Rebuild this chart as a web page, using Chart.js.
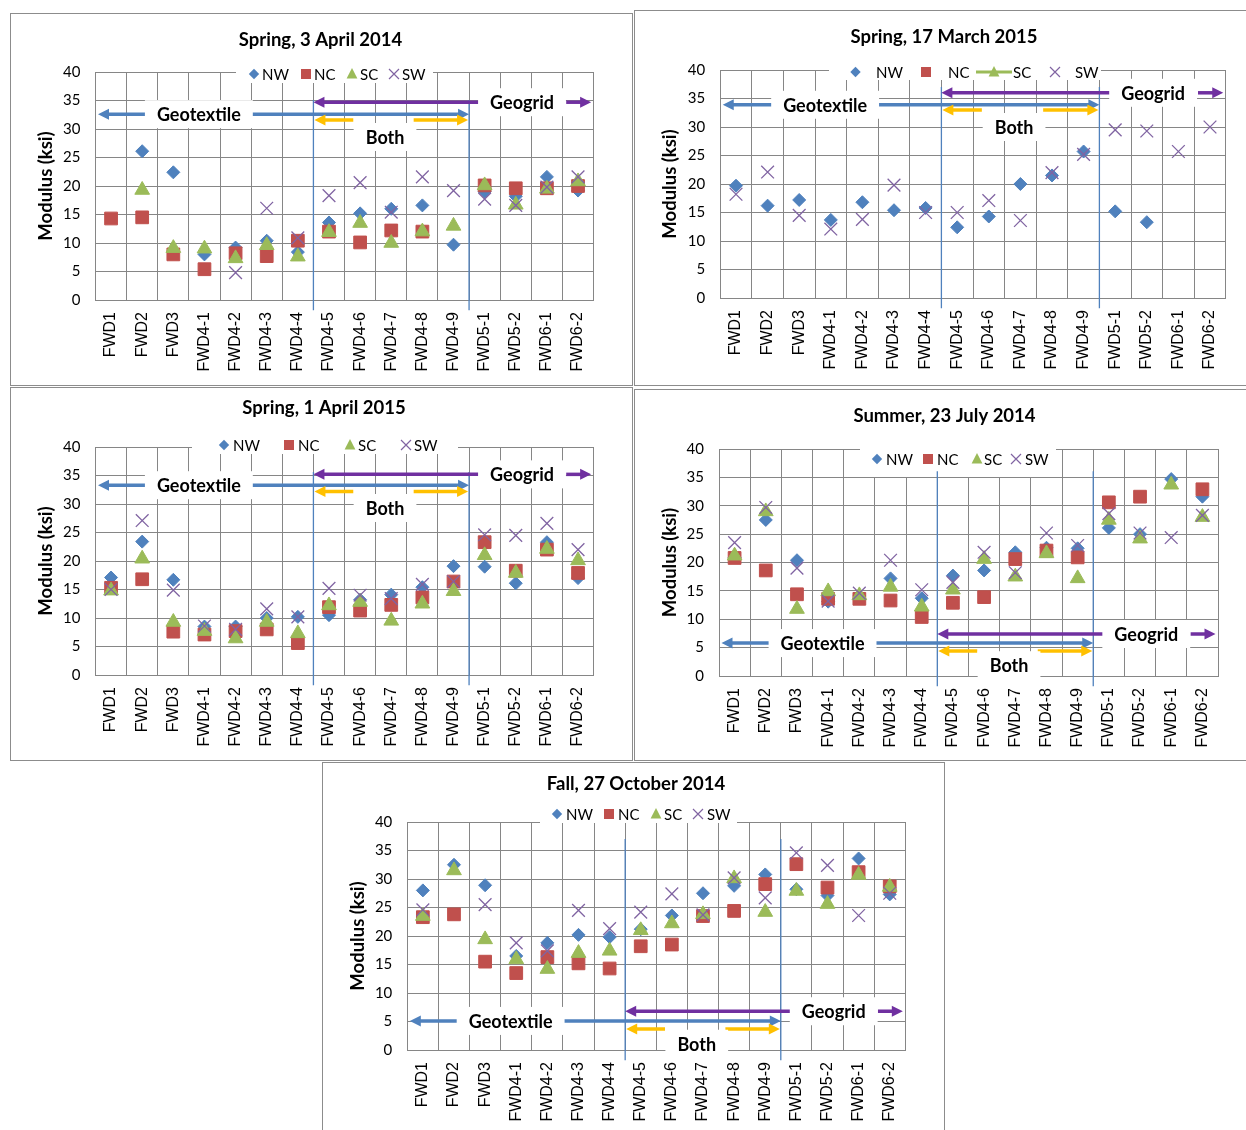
<!DOCTYPE html>
<html>
<head>
<meta charset="utf-8">
<script src="https://cdn.jsdelivr.net/npm/chart.js@4.4.1/dist/chart.umd.min.js"></script>
<style>
body { margin: 0; background: #fff; width: 1246px; height: 1130px; position: relative; overflow: hidden; }
.panel { position: absolute; border: 1px solid #8c8c8c; box-sizing: border-box; background: #fff; }
.panel canvas { position: absolute; left: 0; top: 0; }
</style>
</head>
<body>
<div class="panel" id="p1"><canvas id="c1"></canvas></div>
<div class="panel" id="p2"><canvas id="c2"></canvas></div>
<div class="panel" id="p3"><canvas id="c3"></canvas></div>
<div class="panel" id="p4"><canvas id="c4"></canvas></div>
<div class="panel" id="p5"><canvas id="c5"></canvas></div>
<script>
// FWD test points, modulus in ksi
var categories = ['FWD1','FWD2','FWD3','FWD4-1','FWD4-2','FWD4-3','FWD4-4','FWD4-5','FWD4-6','FWD4-7','FWD4-8','FWD4-9','FWD5-1','FWD5-2','FWD6-1','FWD6-2'];
var seriesNames = ['NW','NC','SC','SW'];
var yMin = 0, yMax = 40, yStep = 5;

// Spring, 3 April 2014
var apr14NW = [null, 26.1, 22.4, 8.0, 9.2, 10.4, 8.4, 13.6, 15.2, 16.0, 16.6, 9.7, 19.0, 18.2, 21.6, 19.2];
var apr14NC = [14.3, 14.5, 8.0, 5.4, 8.2, 7.7, 10.4, 12.0, 10.1, 12.2, 12.0, null, 20.1, 19.6, 19.6, 20.0];
var apr14SC = [null, 19.3, 9.1, 9.0, 7.3, 9.6, 7.6, 11.9, 13.5, 10.0, 12.0, 13.0, 20.1, 16.7, 19.5, 20.8];
var apr14SW = [null, null, null, null, 4.8, 16.1, 10.9, 18.3, 20.6, 15.4, 21.6, 19.2, 17.7, 16.6, 19.8, 21.6];

// Spring, 17 March 2015
var mar15NW = [19.7, 16.2, 17.2, 13.7, 16.8, 15.4, 15.8, 12.4, 14.3, 20.0, 21.5, 25.7, 15.2, 13.3, null, null];
var mar15NC = [null, null, null, null, null, null, null, null, null, null, null, null, null, null, null, null];
var mar15SC = [null, null, null, null, null, null, null, null, null, null, null, null, null, null, null, null];
var mar15SW = [18.2, 22.1, 14.5, 12.1, 13.8, 19.8, 15.0, 15.0, 17.1, 13.6, 22.0, 25.2, 29.5, 29.3, 25.7, 30.0];

// Spring, 1 April 2015
var apr15NW = [17.1, 23.4, 16.7, 8.5, 8.5, 10.0, 10.2, 10.5, 13.2, 14.1, 15.4, 19.1, 19.0, 16.1, 23.3, 17.0];
var apr15NC = [15.3, 16.8, 7.6, 7.1, 7.7, 8.0, 5.6, 11.9, 11.3, 12.3, 13.6, 16.4, 23.3, 18.3, 22.0, 17.9];
var apr15SC = [14.8, 20.4, 9.3, 7.7, 6.4, 9.3, 7.3, 12.2, 12.8, 9.5, 12.5, 14.7, 21.0, 17.9, 22.1, 20.1];
var apr15SW = [15.0, 27.1, 14.9, 8.6, 8.0, 11.6, 10.2, 15.2, 14.0, 13.4, 15.9, 16.4, 24.6, 24.5, 26.6, 22.0];

// Summer, 23 July 2014
var jul14NW = [20.9, 27.5, 20.4, 13.1, 14.1, 17.2, 13.7, 17.7, 18.6, 21.8, 22.6, 22.5, 26.1, 25.0, 34.7, 31.6];
var jul14NC = [20.8, 18.6, 14.4, 13.6, 13.6, 13.3, 10.4, 12.9, 13.9, 20.6, 22.1, 20.9, 30.6, 31.6, null, 32.9];
var jul14SC = [21.2, 29.0, 11.8, 14.9, 14.2, 15.7, 12.2, 15.2, 20.6, 17.5, 21.6, 17.2, 27.5, 24.2, 33.7, 28.0];
var jul14SW = [23.5, 29.7, 19.0, 13.2, 14.6, 20.4, 15.2, 16.5, 21.8, 18.2, 25.2, 23.0, 28.6, 25.2, 24.4, 28.3];

// Fall, 27 October 2014
var oct14NW = [28.0, 32.5, 28.9, 16.5, 18.8, 20.2, 19.8, 21.2, 23.6, 27.5, 28.8, 30.8, 28.2, 27.1, 33.6, 27.3];
var oct14NC = [23.3, 23.8, 15.5, 13.5, 16.3, 15.2, 14.3, 18.2, 18.5, 23.5, 24.4, 29.1, 32.6, 28.5, 31.2, 28.7];
var oct14SC = [23.5, 31.5, 19.4, 15.9, 14.2, 17.0, 17.4, 21.0, 22.2, 23.8, 30.1, 24.2, 27.9, 25.6, 30.7, 28.6];
var oct14SW = [24.6, null, 25.5, 18.8, 17.4, 24.5, 21.3, 24.2, 27.4, 23.7, 30.2, 26.7, 34.6, 32.4, 23.6, 27.5];

var colors = { NW: '#4F81BD', NC: '#C0504D', SC: '#9BBB59', SW: '#8064A2' };
var styles = { NW: 'rectRot', NC: 'rect', SC: 'triangle', SW: 'crossRot' };
var radii = { NW: 6.5, NC: 9, SC: 8.5, SW: 9 };

// page layout (pixel positions in the page)
// notes = ksi levels of [geotextile arrow, geogrid arrow, both arrows, "Both" text, top of divider lines]
var panels = [
  { canvas: 'c1', div: 'p1', box: [10, 13, 623, 373], title: 'Spring, 3 April 2014', titleXY: [320.5, 40],
    plot: [95.5, 72, 593.6, 300], data: [apr14NW, apr14NC, apr14SC, apr14SW],
    notes: [32.6, 34.7, 31.6, 28.6, 35.1],
    legendY: 74, legendBox: [236, 433, 66, 83], legend: [[254, 262], [306, 314], [352, 360], [394, 402]] },
  { canvas: 'c2', div: 'p2', box: [634, 10, 614, 376], title: 'Spring, 17 March 2015', titleXY: [944, 37],
    plot: [720.2, 70, 1225.8, 298], data: [mar15NW, mar15NC, mar15SC, mar15SW],
    notes: [33.9, 36.0, 33.0, 30.0, 37.0], scLine: true,
    legendY: 72, legendBox: [829, 1101, 63, 80], legend: [[855.5, 876], [926, 948], [994, 1013], [1055, 1075]] },
  { canvas: 'c3', div: 'p3', box: [10, 387, 623, 374], title: 'Spring, 1 April 2015', titleXY: [324, 408],
    plot: [95.5, 447, 593.6, 675], data: [apr15NW, apr15NC, apr15SC, apr15SW],
    notes: [33.3, 35.2, 32.2, 29.3, 35.6],
    legendY: 445, legendBox: [192, 458, 437, 454], legend: [[224, 233], [289, 298], [350, 358], [406, 414]] },
  { canvas: 'c4', div: 'p4', box: [634, 389, 614, 372], title: 'Summer, 23 July 2014', titleXY: [944.5, 416],
    plot: [719, 449, 1218, 676], data: [jul14NW, jul14NC, jul14SC, jul14SW],
    notes: [5.8, 7.4, 4.4, 1.9, 36.1],
    legendY: 459, legendBox: [860, 1056, 449, 477], legend: [[877, 886], [928, 937], [977, 984], [1016, 1025]] },
  { canvas: 'c5', div: 'p5', box: [322, 762, 623, 369], title: 'Fall, 27 October 2014', titleXY: [636, 784],
    plot: [407.3, 822, 905.3, 1050], data: [oct14NW, oct14NC, oct14SC, oct14SW],
    notes: [5.1, 6.8, 3.7, 1.1, 37.0],
    legendY: 814, legendBox: [540, 737, 806, 823], legend: [[557, 566], [609, 618], [656, 664], [698, 707]] }
];

// category positions of the annotation pieces (fractional category index)
var divLeft = 6.5, divRight = 11.5;
var geotextileHead = -0.42, geotextileText = 2.82;
var geogridText = 13.2, geogridArrow = [14.62, 15.42];
var bothTails = [7.78, 9.72], bothText = 8.8;

var FONT = 'Lato, "Open Sans", sans-serif';

function drawMarker(ctx, name, x, y, s) {
  ctx.save();
  ctx.fillStyle = colors[name];
  ctx.strokeStyle = colors[name];
  ctx.beginPath();
  if (name == 'NW') {
    ctx.moveTo(x, y - s); ctx.lineTo(x + s, y); ctx.lineTo(x, y + s); ctx.lineTo(x - s, y); ctx.closePath(); ctx.fill();
  } else if (name == 'NC') {
    ctx.rect(x - s, y - s, s * 2, s * 2); ctx.fill();
  } else if (name == 'SC') {
    ctx.moveTo(x, y - s); ctx.lineTo(x + s * 0.9, y + s * 0.75); ctx.lineTo(x - s * 0.9, y + s * 0.75); ctx.closePath(); ctx.fill();
  } else {
    ctx.lineWidth = 1.2;
    var d = s;
    ctx.moveTo(x - d, y - d); ctx.lineTo(x + d, y + d); ctx.moveTo(x + d, y - d); ctx.lineTo(x - d, y + d); ctx.stroke();
  }
  ctx.restore();
}

function arrowHead(ctx, x, y, dir, color) {
  ctx.fillStyle = color;
  ctx.beginPath();
  ctx.moveTo(x, y);
  ctx.lineTo(x - dir * 11, y - 5.5);
  ctx.lineTo(x - dir * 11, y + 5.5);
  ctx.closePath();
  ctx.fill();
}

function segment(ctx, x1, x2, y, color) {
  ctx.strokeStyle = color;
  ctx.lineWidth = 3.5;
  ctx.beginPath();
  ctx.moveTo(x1, y);
  ctx.lineTo(x2, y);
  ctx.stroke();
}

function labelBox(ctx, text, x, y) {
  ctx.font = 'bold 18px ' + FONT;
  var w = ctx.measureText(text).width + 24;
  ctx.fillStyle = '#fff';
  ctx.fillRect(x - w / 2, y - 14, w, 28);
  ctx.fillStyle = '#000';
  ctx.textAlign = 'center';
  ctx.textBaseline = 'middle';
  ctx.fillText(text, x, y + 1);
}

function makeOverlay(cfg, ox, oy) {
  return {
    id: 'overlay',
    afterDraw: function(chart) {
      var ctx = chart.ctx;
      var xs = chart.scales.x, ys = chart.scales.y;
      var n = cfg.notes;
      ctx.save();
      // title
      ctx.fillStyle = '#000';
      ctx.font = 'bold 18.5px ' + FONT;
      ctx.textAlign = 'center';
      ctx.textBaseline = 'middle';
      ctx.fillText(cfg.title, cfg.titleXY[0] - ox, cfg.titleXY[1] - oy);

      // legend
      var lb = cfg.legendBox;
      ctx.fillStyle = '#fff';
      ctx.fillRect(lb[0] - ox, lb[2] - oy, lb[1] - lb[0], lb[3] - lb[2]);
      var ly = cfg.legendY - oy;
      for (var i = 0; i < 4; i++) {
        var mx = cfg.legend[i][0] - ox;
        if (cfg.scLine && i == 2) {
          ctx.strokeStyle = colors.SC; ctx.lineWidth = 3;
          ctx.beginPath(); ctx.moveTo(mx - 18, ly); ctx.lineTo(mx + 18, ly); ctx.stroke();
        }
        drawMarker(ctx, seriesNames[i], mx, ly, [5.2, 5, 6, 5][i]);
        ctx.fillStyle = '#000';
        ctx.font = '15px ' + FONT;
        ctx.textAlign = 'left';
        ctx.textBaseline = 'middle';
        ctx.fillText(seriesNames[i], cfg.legend[i][1] - ox, ly + 1);
      }

      // divider lines between sections
      var xa = xs.getPixelForValue(divLeft), xb = xs.getPixelForValue(divRight);
      ctx.strokeStyle = '#4F81BD';
      ctx.lineWidth = 1.3;
      ctx.beginPath();
      ctx.moveTo(xa, ys.getPixelForValue(n[4])); ctx.lineTo(xa, ys.getPixelForValue(-1.8));
      ctx.moveTo(xb, ys.getPixelForValue(n[4])); ctx.lineTo(xb, ys.getPixelForValue(-1.8));
      ctx.stroke();

      // Geotextile
      var yg = ys.getPixelForValue(n[0]);
      var xl = xs.getPixelForValue(geotextileHead);
      segment(ctx, xl + 8, xb - 8, yg, '#4F81BD');
      arrowHead(ctx, xl, yg, -1, '#4F81BD');
      arrowHead(ctx, xb, yg, 1, '#4F81BD');
      labelBox(ctx, 'Geotextile', xs.getPixelForValue(geotextileText), yg);

      // Geogrid
      var yr = ys.getPixelForValue(n[1]);
      var xgt = xs.getPixelForValue(geogridText);
      segment(ctx, xa + 8, xgt, yr, '#7030A0');
      arrowHead(ctx, xa, yr, -1, '#7030A0');
      var ga = xs.getPixelForValue(geogridArrow[0]), gb = xs.getPixelForValue(geogridArrow[1]);
      segment(ctx, ga, gb - 8, yr, '#7030A0');
      arrowHead(ctx, gb, yr, 1, '#7030A0');
      labelBox(ctx, 'Geogrid', xgt, yr);

      // Both
      var yb = ys.getPixelForValue(n[2]);
      var t1 = xs.getPixelForValue(bothTails[0]), t2 = xs.getPixelForValue(bothTails[1]);
      segment(ctx, xa + 8, t1, yb, '#FFC000');
      arrowHead(ctx, xa + 1, yb, -1, '#FFC000');
      segment(ctx, t2, xb - 8, yb, '#FFC000');
      arrowHead(ctx, xb - 1, yb, 1, '#FFC000');
      labelBox(ctx, 'Both', xs.getPixelForValue(bothText), ys.getPixelForValue(n[3]));
      ctx.restore();
    }
  };
}

panels.forEach(function(cfg) {
  var div = document.getElementById(cfg.div);
  var b = cfg.box;
  div.style.left = b[0] + 'px';
  div.style.top = b[1] + 'px';
  div.style.width = b[2] + 'px';
  div.style.height = b[3] + 'px';
  var cw = b[2] - 2, ch = b[3] - 2;
  var ox = b[0] + 1, oy = b[1] + 1;
  var canvas = document.getElementById(cfg.canvas);
  canvas.width = cw;
  canvas.height = ch;
  var p = cfg.plot;
  var yWidth = p[0] - ox;
  var xHeight = oy + ch - p[3];

  var datasets = [];
  for (var i = 0; i < 4; i++) {
    var nm = seriesNames[i];
    datasets.push({
      label: nm,
      data: cfg.data[i],
      showLine: false,
      pointStyle: styles[nm],
      pointRadius: radii[nm],
      pointHoverRadius: radii[nm],
      pointBackgroundColor: colors[nm],
      pointBorderColor: colors[nm],
      pointBorderWidth: nm == 'SW' ? 1.3 : 1,
      order: 3 - i
    });
  }

  new Chart(canvas, {
    type: 'line',
    data: { labels: categories, datasets: datasets },
    options: {
      responsive: false,
      animation: false,
      devicePixelRatio: 1,
      events: [],
      layout: { autoPadding: false, padding: { left: 0, top: p[1] - oy, right: ox + cw - p[2], bottom: 0 } },
      plugins: { legend: { display: false }, tooltip: { enabled: false }, title: { display: false } },
      scales: {
        x: {
          offset: true,
          grid: { offset: true, color: '#868686', lineWidth: 1, drawTicks: false },
          border: { color: '#868686' },
          ticks: { autoSkip: false, minRotation: 90, maxRotation: 90, padding: 12, color: '#000',
                   font: { family: '"Liberation Sans", Arial, sans-serif', size: 16 } },
          afterFit: function(s) { s.height = xHeight; }
        },
        y: {
          min: yMin, max: yMax,
          grid: { color: '#868686', lineWidth: 1, drawTicks: false },
          border: { color: '#868686' },
          ticks: { stepSize: yStep, padding: 15, color: '#000', font: { family: FONT, size: 15 } },
          title: { display: true, text: 'Modulus (ksi)', color: '#000', padding: { top: 24, bottom: 0 },
                   font: { family: FONT, size: 18.5, weight: 'bold' } },
          afterFit: function(s) { s.width = yWidth; }
        }
      }
    },
    plugins: [makeOverlay(cfg, ox, oy)]
  });
});
</script>
</body>
</html>
